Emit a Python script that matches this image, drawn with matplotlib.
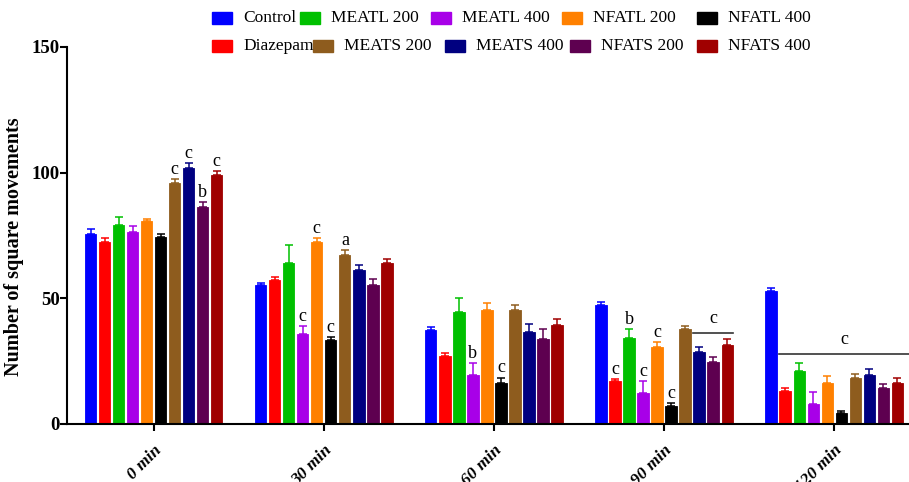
import matplotlib
matplotlib.use("Agg")
import matplotlib.pyplot as plt
from matplotlib.patches import Rectangle
import numpy as np

plt.rcParams['font.family'] = ['Liberation Serif', 'DejaVu Serif']

time_labels = ["0 min", "30 min", "60 min", "90 min", "120 min"]
groups = ["Control", "Diazepam", "MEATL 200", "MEATL 400", "NFATL 200",
          "NFATL 400", "MEATS 200", "MEATS 400", "NFATS 200", "NFATS 400"]

control   = [75.5, 55.2, 37.4, 47.2, 52.9]
diazepam  = [72.5, 57.3, 27.2, 17.2, 13.3]
meatl200  = [79.2, 63.9, 44.6, 34.3, 21.2]
meatl400  = [76.3, 35.9, 19.5, 12.2, 8.0]
nfatl200  = [80.9, 72.5, 45.2, 30.5, 16.2]
nfatl400  = [74.5, 33.4, 16.4, 7.2, 4.3]
meats200  = [96.0, 67.2, 45.2, 37.7, 18.2]
meats400  = [101.9, 61.3, 36.5, 28.5, 19.5]
nfats200  = [86.2, 55.4, 33.9, 24.7, 14.2]
nfats400  = [99.0, 63.9, 39.3, 31.3, 16.2]

control_err  = [1.9, 1.0, 1.3, 1.2, 1.3]
diazepam_err = [1.6, 1.2, 0.9, 0.8, 0.9]
meatl200_err = [3.0, 7.2, 5.7, 3.3, 2.9]
meatl400_err = [2.3, 3.1, 4.6, 4.9, 4.9]
nfatl200_err = [0.7, 1.6, 2.8, 2.3, 2.9]
nfatl400_err = [1.0, 1.3, 2.1, 1.3, 0.9]
meats200_err = [1.6, 2.1, 2.0, 1.3, 1.6]
meats400_err = [2.1, 1.9, 3.2, 2.3, 2.3]
nfats200_err = [2.3, 2.1, 4.0, 2.1, 1.6]
nfats400_err = [1.8, 1.8, 2.4, 2.6, 2.0]

# significance letters: (time index, group index, letter)
sig_letters = [(0, 6, 'c'), (0, 7, 'c'), (0, 8, 'b'), (0, 9, 'c'),
               (1, 3, 'c'), (1, 4, 'c'), (1, 5, 'c'), (1, 6, 'a'),
               (2, 3, 'b'), (2, 5, 'c'),
               (3, 1, 'c'), (3, 2, 'b'), (3, 3, 'c'), (3, 4, 'c'), (3, 5, 'c')]
# bracket lines: (time index, first group, last group, y, letter)
sig_lines = [(3, 7, 9, 36.3, 'c'), (4, 1, 10, 27.7, 'c')]

colors = ['#0000FF', '#FF0000', '#00C000', '#A800E8', '#FF8000',
          '#000000', '#8E5C1E', '#000080', '#5E0050', '#A00000']

values = [control, diazepam, meatl200, meatl400, nfatl200,
          nfatl400, meats200, meats400, nfats200, nfats400]
errors = [control_err, diazepam_err, meatl200_err, meatl400_err, nfatl200_err,
          nfatl400_err, meats200_err, meats400_err, nfats200_err, nfats400_err]

W, H = 909, 482
fig = plt.figure(figsize=(W / 100, H / 100), dpi=100)
ax = fig.add_axes([67 / W, 58 / H, 1 - 67 / W, (435 - 58) / H])

x = np.arange(len(time_labels))
pitch = 0.0824
bw = 0.066
n = len(groups)
for i in range(n):
    xs = x + (i - (n - 1) / 2) * pitch
    ax.bar(xs, values[i], width=bw, color=colors[i], edgecolor=colors[i],
           linewidth=0.6, zorder=2)
    ax.errorbar(xs, values[i], yerr=[np.zeros(len(x)), errors[i]], fmt='none',
                ecolor=colors[i], elinewidth=1.1, capsize=3.2, capthick=1.1,
                zorder=3)

for t, g, lab in sig_letters:
    xx = t + (g - (n - 1) / 2) * pitch
    yy = values[g][t] + errors[g][t] + 2.0
    ax.text(xx, yy, lab, ha='center', va='baseline', fontsize=13)

for t, g0, g1, yv, lab in sig_lines:
    x0 = t + (g0 - (n - 1) / 2) * pitch - bw / 2
    x1 = t + (g1 - (n - 1) / 2) * pitch + bw / 2
    ax.plot([x0, x1], [yv, yv], color='#333333', lw=1.2, zorder=3, clip_on=True)
    ax.text((x0 + min(x1, 4.44)) / 2, yv + 4.0, lab, ha='center', va='baseline',
            fontsize=13)

ax.set_xlim(-0.51, 4.44)
ax.set_ylim(0, 150)
ax.set_yticks([0, 50, 100, 150])
ax.set_yticklabels(['0', '50', '100', '150'], fontsize=13.5, fontweight='bold')
ax.set_xticks(x)
ax.set_xticklabels(time_labels, fontsize=12.5, fontweight='bold', style='italic',
                   rotation=45, ha='right', rotation_mode='anchor')
ax.tick_params(axis='x', length=5, width=1.5, pad=8)
ax.tick_params(axis='y', length=5, width=1.5, pad=0)
for s in ['top', 'right']:
    ax.spines[s].set_visible(False)
for s in ['left', 'bottom']:
    ax.spines[s].set_linewidth(1.5)
ax.set_ylabel('Number of square movements', fontsize=14.5, fontweight='bold')
ax.yaxis.set_label_coords(-43 / (W - 67), 0.469)

# legend drawn as two rows, entries placed like the reference
legend_rows = [
    [(0, 212), (2, 300), (3, 431), (4, 562), (5, 697)],
    [(1, 212), (6, 313), (7, 445), (8, 570), (9, 697)],
]
row_y = [18, 46]
for row, yc in zip(legend_rows, row_y):
    for g, px in row:
        fig.add_artist(Rectangle((px / W, (H - yc - 6) / H), 20 / W, 12 / H,
                                 transform=fig.transFigure, color=colors[g]))
        fig.text((px + 31) / W, (H - yc) / H, groups[g], fontsize=12.5,
                 va='center', ha='left')

fig.savefig('out.png', dpi=100)
